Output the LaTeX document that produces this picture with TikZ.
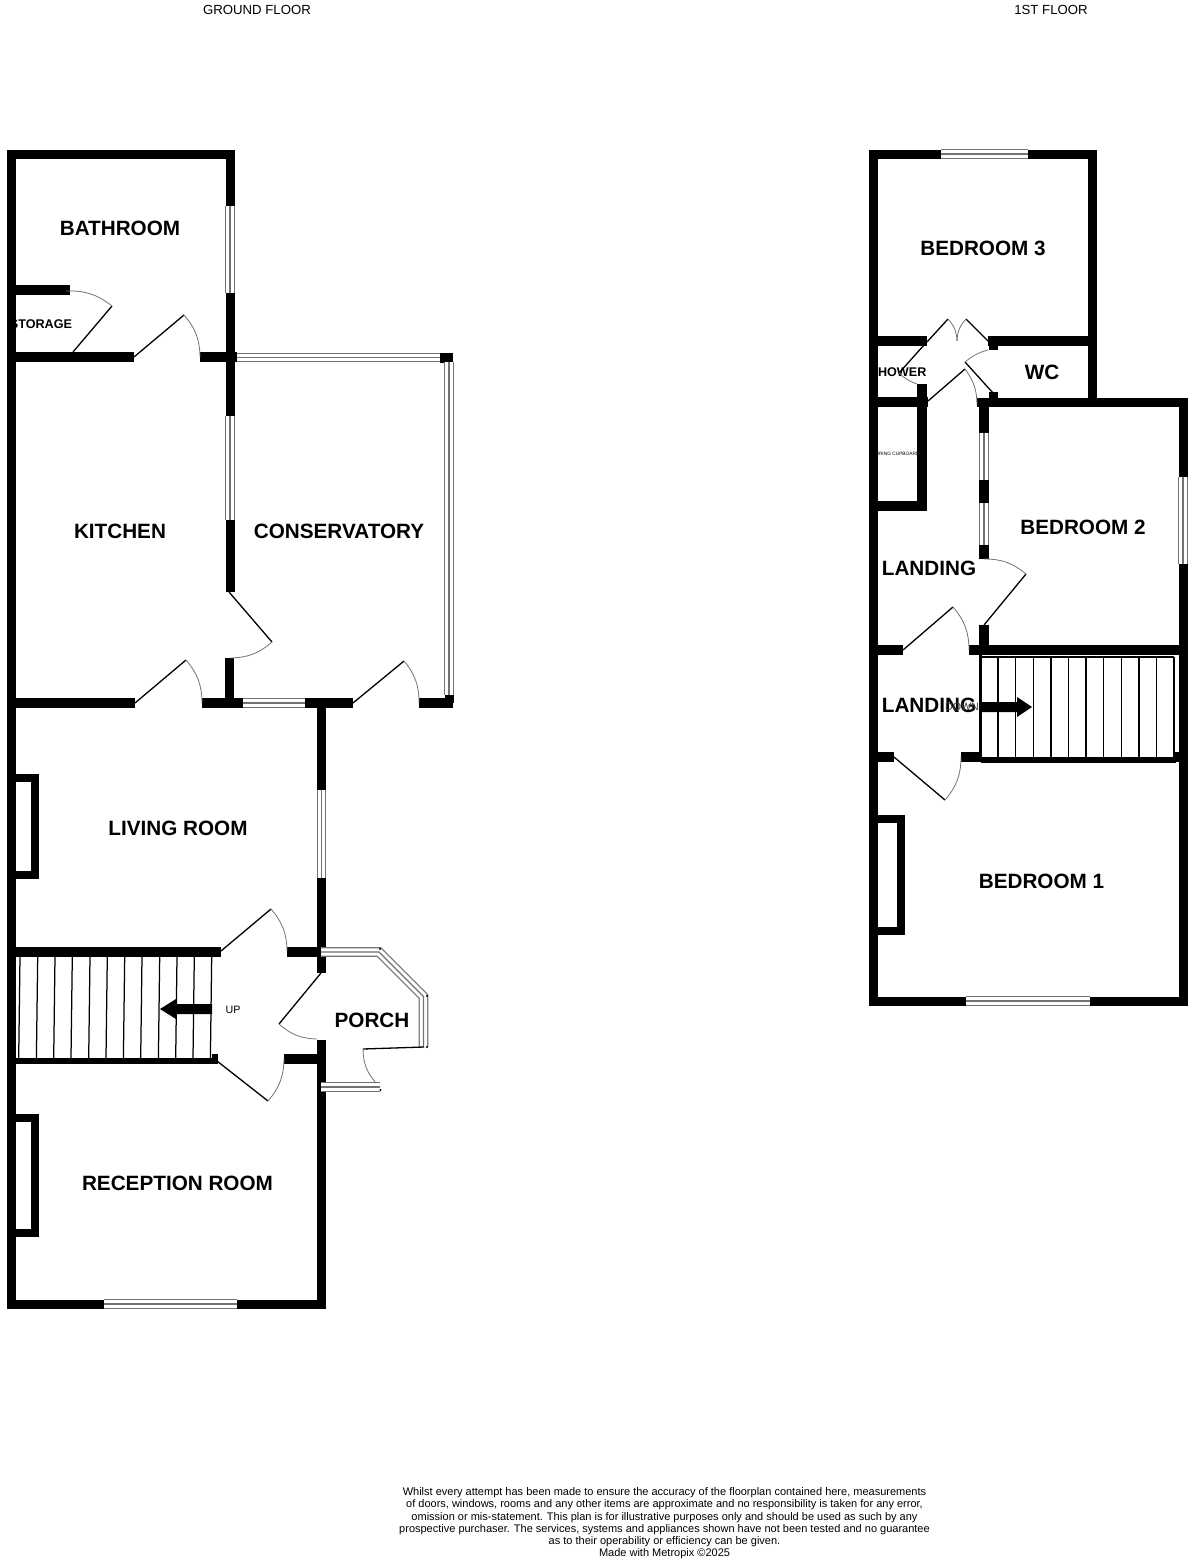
\documentclass[tikz,border=0pt]{standalone}
\usepackage{fontspec}
\setmainfont{Liberation Sans}
\tikzset{
  x=1pt,y=-1pt,
  wall/.style={draw=black,line width=9pt,line cap=butt,line join=miter},
  wallthick/.style={wall,line width=10pt},
  wallthin/.style={wall,line width=5.5pt},
  breast/.style={wall,line width=8pt},
  leaf/.style={draw=black,line width=1.3pt},
  swing/.style={draw=black!55,line width=0.8pt},
  tread/.style={draw=black,line width=1.25pt},
  winouter/.style={draw=black!55,line width=#1,line join=miter},
  winouter/.default=9.8pt,
  wininner/.style={draw=white,line width=#1,line join=miter},
  wininner/.default=7.2pt,
  winmid/.style={draw=black!55,line width=1.4pt,line join=miter},
  room/.style={font=\fontsize{20.7}{22}\selectfont\bfseries,inner sep=0pt,anchor=center},
  smallroom/.style={font=\fontsize{12.6}{14}\selectfont\bfseries,inner sep=0pt,anchor=center},
  tiny/.style={font=\fontsize{4.8}{6}\selectfont,inner sep=0pt,anchor=center},
  plain/.style={font=\fontsize{10.7}{12}\selectfont,inner sep=0pt,anchor=center},
  title/.style={font=\fontsize{13.2}{15}\selectfont,inner sep=0pt,anchor=center},
  note/.style={font=\fontsize{11}{12.2}\selectfont,inner sep=0pt,anchor=north,align=center},
}
\newcommand{\winpath}[1]{%
  \draw[winouter] #1;\draw[wininner] #1;\draw[winmid] #1;}
\newcommand{\doorleaf}[5]{% hinge, tip, end, bend dir, angle
  \draw[leaf] #1 -- #2;
  \draw[swing] #2 to[bend #4=#5] #3;}
\begin{document}
\begin{tikzpicture}
\useasboundingbox (0,0) rectangle (1192,1560);
\fill[white] (0,0) rectangle (1192,1560);

% ---------- texts ----------
\node[title] (gf) at (257,9.5) {GROUND FLOOR};
\node[title] (ff) at (1051,9.5) {1ST FLOOR};
\node[room] (bath) at (120,228) {BATHROOM};
\node[smallroom] (stor) at (41,324.5) {STORAGE};
\node[room] (kit) at (120,531.5) {KITCHEN};
\node[room] (cons) at (339,531.5) {CONSERVATORY};
\node[room] (liv) at (178,828.5) {LIVING ROOM};
\node[plain] (up) at (233,1010) {UP};
\node[room] (porch) at (372,1020.5) {PORCH};
\node[room] (rec) at (177.5,1183) {RECEPTION ROOM};
\node[room] (bed3) at (983,248.5) {BEDROOM 3};
\node[smallroom] (show) at (898,372.5) {SHOWER};
\node[room] (wc) at (1042,372.5) {WC};
\node[tiny] (air) at (897,454) {AIRING CUPBOARD};
\node[room] (bed2) at (1083,527) {BEDROOM 2};
\node[room] (land1) at (929,568.5) {LANDING};
\node[room] (land2) at (929,705.5) {LANDING};
\node[plain,text=black!75] (down) at (962,706.5) {DOWN};
\node[room] (bed1) at (1041.5,881) {BEDROOM 1};
\node[note] (foot) at (664.5,1487.5) {Whilst every attempt has been made to ensure the accuracy of the floorplan contained here, measurements\\
of doors, windows, rooms and any other items are approximate and no responsibility is taken for any error,\\
omission or mis-statement. This plan is for illustrative purposes only and should be used as such by any\\
prospective purchaser. The services, systems and appliances shown have not been tested and no guarantee\\
as to their operability or efficiency can be given.\\
Made with Metropix \textcopyright 2025};

% ---------- ground floor walls ----------
\draw[wall] (230,154) -- (11,154) -- (11,1304) -- (104,1304);
\draw[wall] (237,1304) -- (321,1304) -- (321,1040);
\draw[wall] (321,973) -- (321,878);
\draw[wall] (321,790) -- (321,702);
\draw[wall] (230,150) -- (230,206);
\draw[wall] (230,293) -- (230,416);
\draw[wall] (230,520) -- (230,592);
\draw[wall] (229.5,658) -- (229.5,707);
\draw[wallthick] (15,290) -- (70,290);
\draw[wallthick] (15,357) -- (134,357);
\draw[wallthick] (200,357) -- (237,357);
\draw[wallthick] (440,358) -- (453,358);
\draw[wallthick] (15,703) -- (135,703);
\draw[wallthick] (202,703) -- (243,703);
\draw[wallthick] (305,703) -- (353,703);
\draw[wallthick] (419,703) -- (453,703);
\draw[wall] (449,695) -- (449,703);
\draw[breast] (11,778) -- (35,778) -- (35,875) -- (11,875);
\draw[breast] (11,1118) -- (35,1118) -- (35,1233) -- (11,1233);
\draw[wallthick] (15,952) -- (221,952);
\draw[wallthick] (287,951.5) -- (317,951.5);
\draw[wallthin] (15,1061) -- (218,1061);
\draw[wallthick] (212,1059) -- (218,1059);
\draw[wallthick] (284,1058.5) -- (317,1058.5);

% ---------- ground floor windows ----------
\winpath{(230,206) -- (230,293)}
\winpath{(230,416) -- (230,520)}
\winpath{(237,357.5) -- (440,357.5)}
\winpath{(449,362) -- (449,695)}
\winpath{(243,703) -- (305,703)}
\winpath{(321.5,790) -- (321.5,878)}
\winpath{(104,1304) -- (237,1304)}
\winpath{(321,952) -- (379,952) -- (423.5,996.5) -- (423.5,1047)}
\winpath{(321,1087) -- (380,1087)}
\fill (380,949) circle (1.2) (427,996) circle (1.2) (427,1047) circle (1.2) (380.5,1090) circle (1.2);

% ---------- ground floor doors ----------
\doorleaf{(134,357)}{(184,315)}{(200,357)}{left}{20}
\doorleaf{(73,352)}{(112,306)}{(66,291)}{right}{20}
\doorleaf{(135,703)}{(186,660)}{(202,703)}{left}{20}
\doorleaf{(229,592)}{(272,642)}{(230,658)}{left}{20}
\doorleaf{(353,703)}{(404,661)}{(419,703)}{left}{20}
\doorleaf{(221,951)}{(271,909)}{(287,951)}{left}{20}
\doorleaf{(217,1061)}{(268,1101)}{(284,1058)}{right}{20}
\doorleaf{(321,973)}{(279,1024)}{(317,1039)}{right}{20}
\doorleaf{(424,1047)}{(363,1049)}{(376,1083)}{right}{20}

% ---------- ground floor stairs ----------
\foreach \xa in {20,37.7,55,72.3,90,107.3,124.7,142,159.7,177,194.3,211.7}
  \draw[tread] (\xa,957) -- ({\xa-1.3},1058);
\fill (212,1004) -- (176,1004) -- (176,999) -- (160,1009) -- (176,1019) -- (176,1014) -- (212,1014) -- cycle;

% ---------- first floor walls ----------
\draw[wall] (941,154) -- (873,154) -- (873,1001) -- (966,1001);
\draw[wall] (1090,1001) -- (1183,1001) -- (1183,564);
\draw[wall] (1183,477) -- (1183,402) -- (977,402);
\draw[wall] (1028,154) -- (1092.5,154) -- (1092.5,406);
\draw[wallthick] (877,341) -- (927,341);
\draw[wallthick] (988,341) -- (1088,341);
\draw[wall] (993,336) -- (993,350);
\draw[wall] (993,392) -- (993,398);
\draw[wallthick] (877,402) -- (928,402);
\draw[wallthick] (922,384) -- (922,511);
\draw[wallthick] (877,506) -- (927,506);
\draw[wallthick] (984,402) -- (984,433);
\draw[wallthick] (984,480) -- (984,503);
\draw[wallthick] (984,545) -- (984,559);
\draw[wallthick] (984,625) -- (984,650);
\draw[wallthick] (969,650) -- (1183,650);
\draw[wallthick] (877,650) -- (903,650);
\draw[wallthick] (961,757) -- (981,757);
\draw[wallthin] (981,760) -- (1176,760);
\draw[wallthick] (1175,757) -- (1183,757);
\draw[wallthick] (877,757) -- (894,757);
\draw[line width=3pt] (980,650) -- (980,762);
\draw[breast] (873,819) -- (901,819) -- (901,931) -- (873,931);

% ---------- first floor windows ----------
\winpath{(941,154) -- (1028,154)}
\winpath{(984,433) -- (984,480)}
\winpath{(984,503) -- (984,545)}
\winpath{(1183,477) -- (1183,564)}
\winpath{(966,1001) -- (1090,1001)}

% ---------- first floor doors ----------
\doorleaf{(927,342)}{(948,319)}{(957,341)}{left}{20}
\doorleaf{(988,341)}{(966,319)}{(957,341)}{right}{20}
\doorleaf{(924,345)}{(899,373)}{(917,384)}{right}{12}
\doorleaf{(993,393)}{(965,362)}{(988,350)}{left}{12}
\doorleaf{(928,401)}{(965,369)}{(977,405)}{left}{18}
\doorleaf{(984,625)}{(1026,574)}{(984,559)}{right}{20}
\doorleaf{(903,650)}{(953,607)}{(969,650)}{left}{20}
\doorleaf{(894,757)}{(945,800)}{(961,757)}{right}{20}

% ---------- first floor stairs ----------
\draw[tread] (980.7,657) -- (1174,657);
\foreach \xa in {998,1015.7,1033.3,1051,1068.7,1086,1103.7,1121.3,1139,1156.7,1174}
  \draw[tread] (\xa,657) -- (\xa,758);
\fill (981,702) -- (1017,702) -- (1017,697) -- (1032,707) -- (1017,717) -- (1017,712) -- (981,712) -- cycle;
\end{tikzpicture}
\end{document}
